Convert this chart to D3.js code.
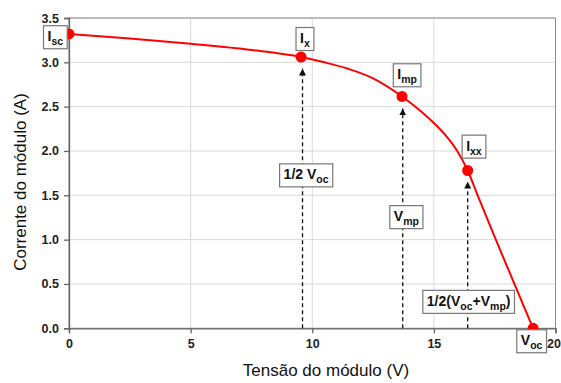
<!DOCTYPE html>
<html>
<head>
<meta charset="utf-8">
<script src="https://cdn.jsdelivr.net/npm/d3@7"></script>
<style>
  html, body { margin: 0; padding: 0; background: #fff; }
  svg { display: block; font-family: Arial, "Liberation Sans", sans-serif; }
</style>
</head>
<body>
<svg id="chart" width="561" height="383"></svg>
<script>
// ---- data ----
const curveV = [0, 2.5, 5, 7.5, 9.54, 10.5, 11.5, 12.5, 13.69, 14.5, 15.0, 15.5, 15.96, 16.39, 16.77, 17.5, 18.28, 19.08];
const curveI = [3.32, 3.27, 3.21, 3.14, 3.06, 3.0, 2.925, 2.82, 2.615, 2.44, 2.315, 2.17, 2.0, 1.78, 1.52, 1.03, 0.52, 0];

const pointNames = ["Isc", "Ix", "Imp", "Ixx", "Voc"];
const pointV = [0, 9.54, 13.69, 16.39, 19.08];
const pointI = [3.32, 3.06, 2.615, 1.78, 0];

const arrowV = [9.6, 13.72, 16.39];
const arrowTop = [2.93, 2.48, 1.655];

// label segments: [text, isSubscript]
const labelSegments = [
  [["I", false], ["sc", true]],
  [["I", false], ["x", true]],
  [["I", false], ["mp", true]],
  [["I", false], ["xx", true]],
  [["V", false], ["oc", true]],
  [["1/2 V", false], ["oc", true]],
  [["V", false], ["mp", true]],
  [["1/2(V", false], ["oc", true], ["+V", false], ["mp", true], [")", false]]
];
const labelV = [-0.56, 9.70, 13.90, 16.65, 19.02, 9.75, 13.87, 16.43];
const labelI = [3.283, 3.263, 2.854, 2.049, -0.146, 1.725, 1.254, 0.298];

const xTicks = [0, 5, 10, 15, 20];
const yTicks = [0, 0.5, 1.0, 1.5, 2.0, 2.5, 3.0, 3.5];
const xTitle = "Tensão do módulo (V)";
const yTitle = "Corrente do módulo (A)";

// ---- layout ----
const svg = d3.select("#chart");
const m = { left: 69, top: 18, right: 555.5, bottom: 328.3 };
const x = d3.scaleLinear().domain([0, 20]).range([m.left, m.right]);
const y = d3.scaleLinear().domain([0, 3.5]).range([m.bottom, m.top]);

// grid
const grid = svg.append("g");
grid.selectAll("line.gx").data(xTicks).join("line")
  .attr("x1", d => x(d)).attr("x2", d => x(d))
  .attr("y1", m.top).attr("y2", m.bottom)
  .attr("stroke", "#d9d9d9").attr("stroke-width", 1);
grid.selectAll("line.gy").data(yTicks).join("line")
  .attr("x1", m.left).attr("x2", m.right)
  .attr("y1", d => y(d)).attr("y2", d => y(d))
  .attr("stroke", "#d9d9d9").attr("stroke-width", 1);

// frame (top/right)
svg.append("rect").attr("x", m.left).attr("y", m.top)
  .attr("width", m.right - m.left).attr("height", m.bottom - m.top)
  .attr("fill", "none").attr("stroke", "#8c8c8c").attr("stroke-width", 1);

// axes
const xAxis = svg.append("g").attr("transform", `translate(0,${m.bottom})`)
  .call(d3.axisBottom(x).tickValues(xTicks).tickSize(5).tickPadding(6).tickFormat(d3.format("d")));
const yAxis = svg.append("g").attr("transform", `translate(${m.left},0)`)
  .call(d3.axisLeft(y).tickValues(yTicks).tickSize(5).tickPadding(5).tickFormat(d3.format(".1f")));
[xAxis, yAxis].forEach(a => {
  a.select(".domain").attr("stroke", "#666").attr("stroke-width", 1.3);
  a.selectAll(".tick line").attr("stroke", "#666").attr("stroke-width", 1.3);
  a.selectAll(".tick text").attr("fill", "#222").attr("font-size", 12.5)
    .attr("font-weight", "bold").attr("font-family", "Arial, 'Liberation Sans', sans-serif");
});
xAxis.selectAll(".tick text").filter(d => d === 20).attr("dx", -2);

// titles
svg.append("text").attr("x", 326).attr("y", 376).attr("text-anchor", "middle")
  .attr("font-size", 17).attr("fill", "#111").text(xTitle);
svg.append("text").attr("transform", "translate(26,182) rotate(-90)")
  .attr("text-anchor", "middle").attr("font-size", 17).attr("fill", "#111").text(yTitle);

// arrows
const defs = svg.append("defs");
defs.append("marker").attr("id", "ah").attr("viewBox", "0 0 10 10")
  .attr("refX", 10).attr("refY", 5).attr("markerWidth", 7).attr("markerHeight", 8)
  .attr("markerUnits", "userSpaceOnUse").attr("orient", "auto")
  .append("path").attr("d", "M0,0 L10,5 L0,10 Z").attr("fill", "#111");
svg.append("g").selectAll("line").data(arrowV).join("line")
  .attr("x1", d => x(d)).attr("x2", d => x(d))
  .attr("y1", m.bottom).attr("y2", (d, i) => y(arrowTop[i]))
  .attr("stroke", "#111").attr("stroke-width", 1.3)
  .attr("stroke-dasharray", "4,3")
  .attr("marker-end", "url(#ah)");

// curve
const pts = curveV.map((v, i) => [v, curveI[i]]);
svg.append("path").datum(pts)
  .attr("d", d3.line().x(d => x(d[0])).y(d => y(d[1])).curve(d3.curveMonotoneX))
  .attr("fill", "none").attr("stroke", "#ff0000").attr("stroke-width", 2);

// points
svg.append("g").selectAll("circle").data(pointV).join("circle")
  .attr("cx", d => x(d)).attr("cy", (d, i) => y(pointI[i]))
  .attr("r", 5.5).attr("fill", "#ff0000");

// labels
const lg = svg.append("g");
labelSegments.forEach((segs, i) => {
  const g = lg.append("g");
  const rect = g.append("rect");
  const t = g.append("text").attr("font-weight", "bold").attr("fill", "#111")
    .attr("x", 0).attr("y", 0);
  let sub = false;
  segs.forEach(([s, isSub]) => {
    const ts = t.append("tspan").text(s);
    if (isSub && !sub) { ts.attr("dy", 4).attr("font-size", 10.5); sub = true; }
    else if (isSub) { ts.attr("font-size", 10.5); }
    else if (!isSub && sub) { ts.attr("dy", -4).attr("font-size", 14); sub = false; }
    else { ts.attr("font-size", 14); }
  });
  const bb = t.node().getBBox();
  const cx = x(labelV[i]), cy = y(labelI[i]);
  const w = bb.width + 8, h = 23;
  t.attr("x", cx - bb.width / 2).attr("y", cy + 4);
  rect.attr("x", cx - w / 2).attr("y", cy - h / 2).attr("width", w).attr("height", h)
    .attr("fill", "#fff").attr("stroke", "#777").attr("stroke-width", 1.2);
});
</script>
</body>
</html>
